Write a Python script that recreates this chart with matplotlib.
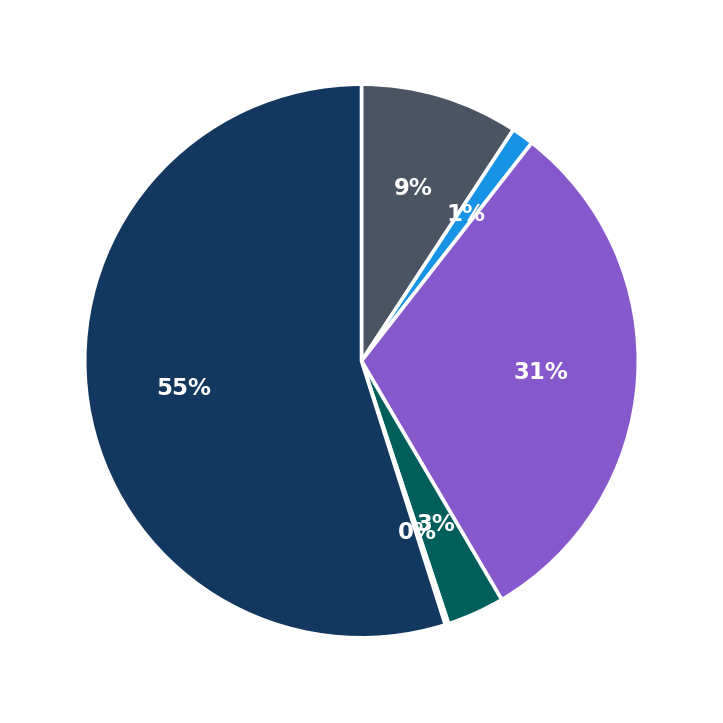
import matplotlib
matplotlib.use("Agg")
import matplotlib.pyplot as plt

labels = ["A", "B", "C", "D", "E", "F"]
values = [9.25, 1.3, 31.0, 3.36, 0.2, 54.9]
colors = ["#4a5462", "#1793e6", "#8757cc", "#005f5b", "#f2c94c", "#133860"]

fig = plt.figure(figsize=(7.23, 7.23), dpi=100)
side = 692 / 723
cx, cy = 361.5 / 723, 362 / 723
ax = fig.add_axes([cx - side / 2, cy - side / 2, side, side])
wedges, texts, autotexts = ax.pie(
    values, colors=colors, startangle=90, counterclock=False,
    autopct="%.0f%%", pctdistance=0.65,
    wedgeprops=dict(edgecolor="white", linewidth=2.6),
    textprops=dict(color="white", fontsize=16.5, fontweight="bold"),
)
ax.set_aspect("equal")
fig.savefig("out.png", dpi=100)
